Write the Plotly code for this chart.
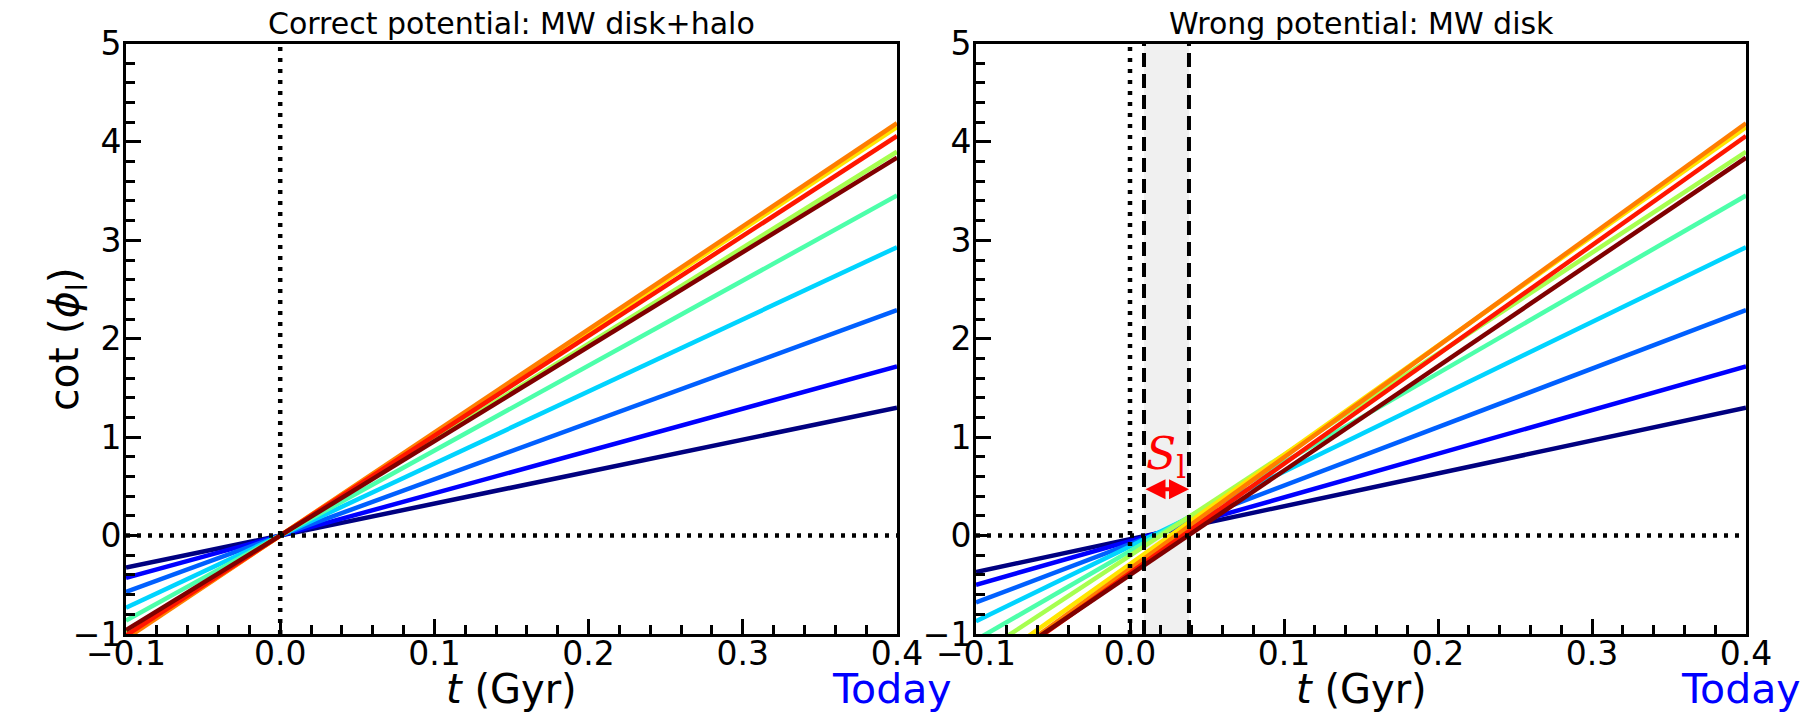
import plotly.graph_objects as go

# ---- data ----
t_ends = [-0.1, 0.4]
line_colors = ["#000080", "#0000ff", "#0060ff", "#00d4ff", "#4dffaa",
               "#a7ff50", "#ffe600", "#ff7e00", "#ff1600", "#800000"]
# Left panel (correct potential): cot(phi_l) at t=-0.1 and t=0.4
left_start = [-0.325, -0.43, -0.5725, -0.7325, -0.864, -0.975, -1.0375, -1.0475, -1.015, -0.96]
left_end = [1.30, 1.72, 2.29, 2.93, 3.455, 3.90, 4.15, 4.19, 4.06, 3.84]
# Right panel (wrong potential)
right_start = [-0.37, -0.50, -0.68, -0.87, -1.06, -1.23, -1.40, -1.47, -1.49, -1.46]
right_end = [1.30, 1.72, 2.29, 2.93, 3.455, 3.90, 4.15, 4.19, 4.06, 3.84]

ref_t = 0.0
ref_y = 0.0
band_t = [0.0091, 0.0383]
arrow_y = 0.47
label_pos = [0.0235, 0.80]

titles = ["Correct potential: MW disk+halo", "Wrong potential: MW disk"]
x_tickvals = [-0.1, 0.0, 0.1, 0.2, 0.3, 0.4]
x_ticktext = ["\u22120.1", "0.0", "0.1", "0.2", "0.3", "0.4"]
y_tickvals = [-1, 0, 1, 2, 3, 4, 5]
y_ticktext = ["\u22121", "0", "1", "2", "3", "4", "5"]
x_range = [-0.1, 0.4]
y_range = [-1, 5]

FONT = "DejaVu Sans"
W, H = 1800, 720
TICK_SIZE = 33

fig = go.Figure()

for i, c in enumerate(line_colors):
    fig.add_trace(go.Scatter(x=t_ends, y=[left_start[i], left_end[i]], mode="lines",
                             line=dict(color=c, width=4.5), xaxis="x", yaxis="y",
                             showlegend=False, hoverinfo="skip"))
for i, c in enumerate(line_colors):
    fig.add_trace(go.Scatter(x=t_ends, y=[right_start[i], right_end[i]], mode="lines",
                             line=dict(color=c, width=4.5), xaxis="x2", yaxis="y2",
                             showlegend=False, hoverinfo="skip"))

def xaxis_cfg(domain, anchor):
    return dict(domain=domain, anchor=anchor, range=x_range, showgrid=False, zeroline=False,
                automargin=False,
                showline=True, linecolor="black", linewidth=3, mirror=True,
                ticks="inside", ticklen=15, tickwidth=3, tickcolor="black",
                tickvals=x_tickvals, ticktext=x_ticktext, ticklabelstandoff=-12,
                tickfont=dict(family=FONT, size=TICK_SIZE, color="black"),
                minor=dict(ticks="inside", ticklen=9, tickwidth=2.5, dtick=0.02,
                           tick0=-0.1, tickcolor="black", showgrid=False))

def yaxis_cfg(domain, anchor):
    return dict(domain=domain, anchor=anchor, range=y_range, showgrid=False, zeroline=False,
                automargin=False,
                showline=True, linecolor="black", linewidth=3, mirror=True,
                ticks="inside", ticklen=15, tickwidth=3, tickcolor="black",
                tickvals=y_tickvals, ticktext=y_ticktext, ticklabelstandoff=-5,
                tickfont=dict(family=FONT, size=TICK_SIZE, color="black"),
                minor=dict(ticks="inside", ticklen=9, tickwidth=2.5, dtick=0.2,
                           tick0=-1, tickcolor="black", showgrid=False))

ydom = [(H - 634) / H, (H - 43.5) / H]
fig.update_layout(
    width=W, height=H, margin=dict(l=0, r=0, t=0, b=0, autoexpand=False),
    paper_bgcolor="white", plot_bgcolor="white",
    font=dict(family=FONT, color="black"),
    xaxis=xaxis_cfg([126 / W, 897 / W], "y"),
    yaxis=yaxis_cfg(ydom, "x"),
    xaxis2=xaxis_cfg([976 / W, 1746 / W], "y2"),
    yaxis2=yaxis_cfg(ydom, "x2"),
)

shapes = []
# grey band (right panel)
shapes.append(dict(type="rect", xref="x2", yref="y2 domain", x0=band_t[0], x1=band_t[1],
                   y0=0, y1=1, fillcolor="#f0f0f0", line=dict(width=0), layer="below"))
for xr, yr in [("x", "y"), ("x2", "y2")]:
    shapes.append(dict(type="line", xref=xr, yref=yr + " domain", x0=ref_t, x1=ref_t, y0=0, y1=1,
                       line=dict(color="black", width=4.5, dash="4px,7px"), layer="above"))
    shapes.append(dict(type="line", xref=xr + " domain", yref=yr, x0=0, x1=1, y0=ref_y, y1=ref_y,
                       line=dict(color="black", width=4.5, dash="4px,7px"), layer="above"))
for bt in band_t:
    shapes.append(dict(type="line", xref="x2", yref="y2 domain", x0=bt, x1=bt, y0=0, y1=1,
                       line=dict(color="black", width=4, dash="14px,7px"), layer="above"))
fig.update_layout(shapes=shapes)

ann = []
for xr, title in [("x", titles[0]), ("x2", titles[1])]:
    ann.append(dict(text=title, xref=xr + " domain", yref="paper", x=0.5, y=1 - 23 / H,
                    xanchor="center", yanchor="middle", showarrow=False,
                    font=dict(family=FONT, size=30, color="black")))
    ann.append(dict(text="<i>t</i> (Gyr)", xref=xr + " domain", yref="paper", x=0.5, y=1 - 689 / H,
                    xanchor="center", yanchor="middle", showarrow=False,
                    font=dict(family=FONT, size=40, color="black")))
    ann.append(dict(text="Today", xref=xr, yref="paper", x=x_range[1], y=1 - 689 / H,
                    xanchor="right", yanchor="middle", xshift=57, showarrow=False,
                    font=dict(family=FONT, size=41, color="#0000ff")))
ann.append(dict(text="cot (<i>\u03d5</i><sub>l</sub>)", xref="paper", yref="paper",
                x=67 / W, y=1 - 339 / H, xanchor="center", yanchor="middle", textangle=-90,
                showarrow=False, font=dict(family=FONT, size=41, color="black")))
# S_l arrow
ann.append(dict(text="", xref="x2", yref="y2", x=band_t[1], y=arrow_y,
                axref="x2", ayref="y2", ax=band_t[0], ay=arrow_y,
                showarrow=True, arrowside="end+start", arrowhead=2, arrowsize=1.0,
                arrowwidth=4, arrowcolor="#ff0000"))
ann.append(dict(text="<i>S</i><sub>l</sub>", xref="x2", yref="y2", x=label_pos[0], y=label_pos[1],
                xanchor="center", yanchor="middle", showarrow=False,
                font=dict(family="DejaVu Serif", size=44, color="#ff0000")))
fig.update_layout(annotations=ann)

fig.write_html("out.html")
